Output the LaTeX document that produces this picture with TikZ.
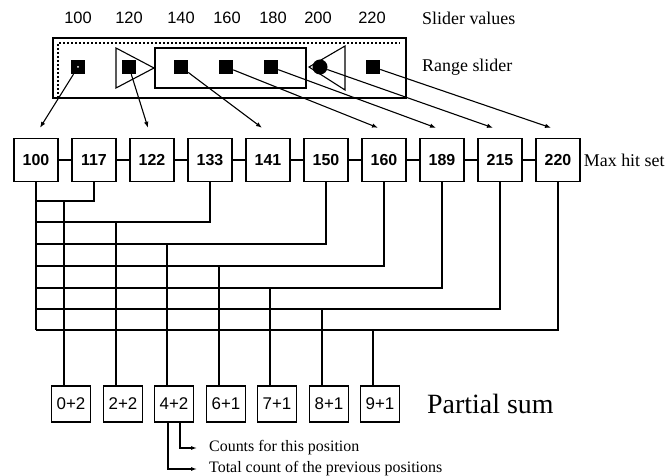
\documentclass[tikz,border=0pt]{standalone}
\usepackage{fontspec}
\setmainfont{Liberation Serif}
\setsansfont{Liberation Sans}
\usetikzlibrary{arrows.meta,positioning,calc}
\tikzset{
  hitbox/.style={draw,line width=1.4bp,minimum width=44bp,minimum height=43bp,inner sep=0pt,font=\sffamily\bfseries\fontsize{16}{16}\selectfont},
  sumbox/.style={draw,line width=1.2bp,minimum width=39bp,minimum height=36bp,inner sep=0pt,font=\sffamily\fontsize{17}{17}\selectfont},
  handle/.style={fill=black,minimum size=14bp,inner sep=0pt},
  hitarrow/.style={-{Latex[length=6bp,width=4.5bp]},line width=1.1bp},
  bus/.style={line width=1.5bp},
  notearrow/.style={-{Latex[length=6bp,width=4bp]},line width=1.1bp},
  sliderval/.style={font=\sffamily\fontsize{16.5}{16.5}\selectfont},
  caption/.style={font=\fontsize{18}{18}\selectfont,anchor=west,inner sep=0pt}
}
\begin{document}
\begin{tikzpicture}[x=1bp,y=-1bp]
\useasboundingbox (0,0) rectangle (670,476);
% range slider
\draw[line width=1.4bp] (53,38) rectangle (406,98);
\draw[dash pattern=on 2bp off 2bp,line width=1.1bp] (58,98) -- (58,43) -- (400,43);
\draw[line width=1.4bp] (155,48) rectangle (306,88);
\draw[line width=1.1bp] (116,48) -- (154,68) -- (116,88) -- cycle;
\draw[line width=1.1bp] (345,46) -- (309,67) -- (345,90) -- cycle;
\foreach \v/\x in {100/78,120/129,140/181,160/226,180/271,220/373}{
  \node[handle] (s\v) at (\x,67) {};
}
\node[handle,circle,minimum size=15bp] (s200) at (320,67) {};
\fill[white] (s100) circle (1bp);
\foreach \v/\x in {100/78,120/129,140/181,160/227,180/273,200/318,220/372}{
  \node[sliderval] (v\v) at (\x,18) {\v};
}
\node[caption] (sv) at (422,18) {Slider values};
\node[caption] (rs) at (422,67) {Range slider};
% max hit set
\foreach \h [count=\i from 0] in {100,117,122,133,141,150,160,189,215,220}{
  \node[hitbox] (b\h) at (36+58*\i,160) {\h};
}
\foreach \a/\b in {100/117,117/122,122/133,133/141,141/150,150/160,160/189,189/215,215/220}{
  \draw[bus] (b\a) -- (b\b);
}
\node[caption] (mh) [right=3bp of b220] {Max hit set};
\foreach \v/\h/\dx in {100/100/4,120/122/-4,140/141/-6,160/160/-6,180/189/-6,200/215/-7,220/220/-7}{
  \draw[hitarrow] (s\v) -- ([xshift=\dx bp,yshift=10bp]b\h.north);
}
% partial sums
\foreach \s/\x [count=\i] in {0+2/71,2+2/123,4+2/174,6+1/226,7+1/277,8+1/329,9+1/380}{
  \node[sumbox] (p\i) at (\x,404) {\s};
}
\node[caption,font=\fontsize{28}{28}\selectfont] (ps) at (427,404) {Partial sum};
\foreach \src/\lev [count=\i] in {117/201,133/222,150/244,160/266,189/288,215/309,220/330}{
  \coordinate (l\i) at (0,\lev);
  \draw[bus] (b\src.south) |- (b100.south |- l\i);
  \coordinate (t\i) at ([xshift=-7bp]p\i.north);
  \draw[bus] (t\i) -- (t\i |- l\i);
}
\draw[bus] (b100.south) -- (b100.south |- l7);
% legend of a partial sum
\node[caption,font=\fontsize{16}{16}\selectfont] (cnt) at (209,448) {Counts for this position};
\node[caption,font=\fontsize{16}{16}\selectfont] (tot) at (209,469) {Total count of the previous positions};
\draw[notearrow] ([xshift=6bp]p3.south) |- ([xshift=-12bp]cnt.west);
\draw[notearrow] ([xshift=-6bp]p3.south) |- ([xshift=-12bp]tot.west);
\end{tikzpicture}
\end{document}
